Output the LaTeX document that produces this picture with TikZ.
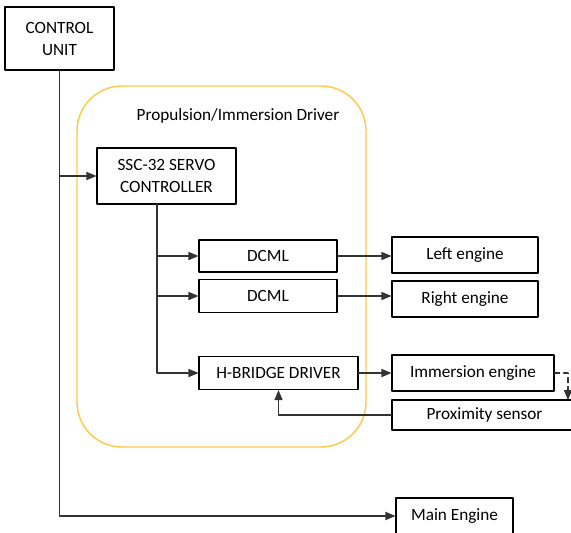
\documentclass[tikz,border=0pt]{standalone}
\usepackage{fontspec}
\setmainfont{Carlito}
\usetikzlibrary{arrows}
\definecolor{boxgold}{RGB}{255,200,70}

\begin{document}
\begin{tikzpicture}[line cap=round,line join=round,>=triangle 45,x=1pt,y=-1pt,
  every node/.style={font=\fontsize{17.2}{22}\selectfont},
  blk/.style={draw,line width=1.2pt,inner sep=0pt,align=center},
  wire/.style={line width=1.3pt,black!80}]
\clip (0,0) rectangle (571,533);
\draw [color=boxgold,line width=1.4pt,rounded corners=45] (77,86) rectangle (366,447);
\node (drv) at (238,116) {Propulsion/Immersion Driver};
\node [blk,minimum width=109,minimum height=63] (cu) at (59.5,38.5) {CONTROL\\UNIT};
\node [blk,minimum width=139,minimum height=56] (ssc) at (166.5,176) {SSC-32 SERVO\\CONTROLLER};
\node [blk,minimum width=138,minimum height=32] (dcmlA) at (268,256) {DCML};
\node [blk,minimum width=138,minimum height=33] (dcmlB) at (268,296) {DCML};
\node [blk,minimum width=159,minimum height=33] (hb) at (278.5,373) {H-BRIDGE DRIVER};
\node [blk,minimum width=146,minimum height=36] (left) at (465,255) {Left engine};
\node [blk,minimum width=146,minimum height=36] (right) at (465,299) {Right engine};
\node [blk,minimum width=162,minimum height=36] (imm) at (473,373) {Immersion engine};
\node [blk,minimum width=185,minimum height=30] (prox) at (484.5,415) {Proximity sensor};
\node [blk,minimum width=117,minimum height=36] (main) at (454.5,516) {Main Engine};
\coordinate (sj) at (157,204);
\coordinate (dk) at (568,400);
% control unit bus
\draw [wire,->] (cu.south) |- (main.west);
\draw [wire,->] (cu.south |- ssc.west) -- (ssc.west);
% servo controller outputs
\draw [wire,->] (sj) |- (hb.west);
\draw [wire,->] (sj |- dcmlA.west) -- (dcmlA.west);
\draw [wire,->] (sj |- dcmlB.west) -- (dcmlB.west);
\draw [wire,->] (dcmlA.east) -- (dcmlA.east -| left.west);
\draw [wire,->] (dcmlB.east) -- (dcmlB.east -| right.west);
\draw [wire,->] (hb.east) -- (hb.east -| imm.west);
\draw [wire,->] (prox.west) -| (hb.south);
\draw [wire,dash pattern=on 5pt off 4pt,->] (imm.east) -| (dk);
\end{tikzpicture}
\end{document}
